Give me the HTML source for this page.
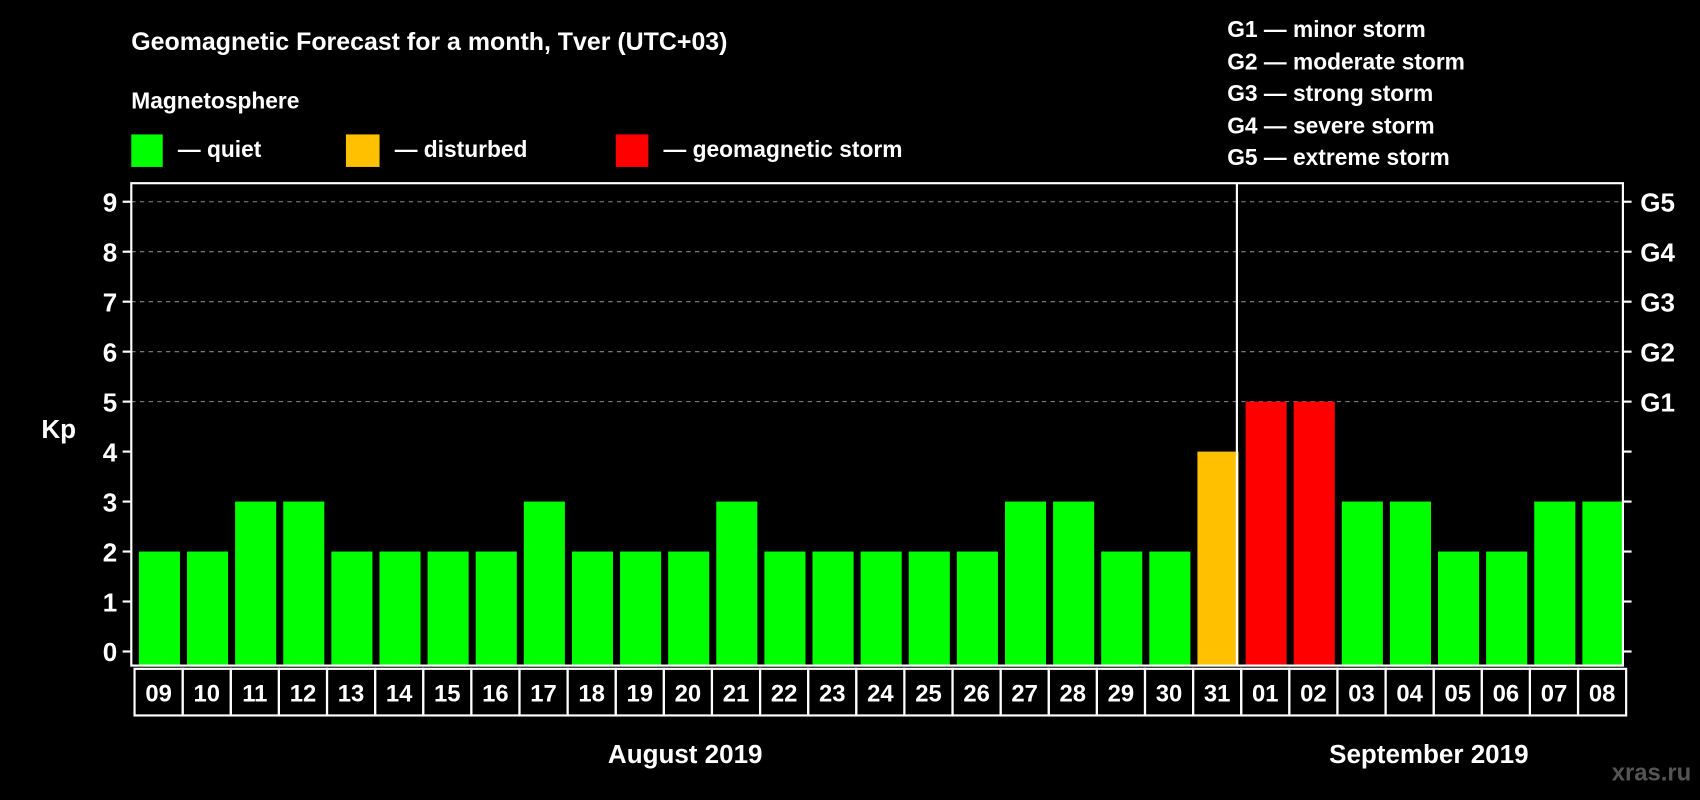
<!DOCTYPE html>
<html><head><meta charset="utf-8"><style>
html,body{margin:0;padding:0;background:#000;}
svg{display:block;font-family:"Liberation Sans",Arial,sans-serif;font-weight:bold;}
</style></head><body>
<svg id="chart" width="1700" height="800" viewBox="0 0 1568 738">
<rect x="0" y="0" width="1568" height="738" fill="#000"/>
<text x="121" y="46" fill="#fff" font-size="23">Geomagnetic Forecast for a month, Tver (UTC+03)</text>
<text x="121" y="100" fill="#fff" font-size="21">Magnetosphere</text>
<rect x="121" y="124" width="29" height="30" fill="#00ff00"/>
<text x="164" y="145" fill="#fff" font-size="21">— quiet</text>
<rect x="319" y="124" width="31" height="30" fill="#ffc000"/>
<text x="364" y="145" fill="#fff" font-size="21">— disturbed</text>
<rect x="568" y="124" width="30" height="30" fill="#ff0000"/>
<text x="612" y="145" fill="#fff" font-size="21">— geomagnetic storm</text>
<g fill="#fff" font-size="21">
<text x="1132" y="34">G1 — minor storm</text>
<text x="1132" y="64">G2 — moderate storm</text>
<text x="1132" y="93">G3 — strong storm</text>
<text x="1132" y="123">G4 — severe storm</text>
<text x="1132" y="152">G5 — extreme storm</text>
</g>
<text x="38" y="404" fill="#fff" font-size="24">Kp</text>
<text x="632" y="704" fill="#fff" font-size="24" text-anchor="middle">August 2019</text>
<text x="1318" y="704" fill="#fff" font-size="24" text-anchor="middle">September 2019</text>
<text x="1560" y="720" fill="#555" font-size="22" text-anchor="end">xras.ru</text>
<g id="grid"></g><g id="bars"></g><g id="axes"></g>
</svg>
<script>
const days = ["09","10","11","12","13","14","15","16","17","18","19","20","21","22","23","24","25","26","27","28","29","30","31","01","02","03","04","05","06","07","08"];
const kpValues = [2,2,3,3,2,2,2,2,3,2,2,2,3,2,2,2,2,2,3,3,2,2,4,5,5,3,3,2,2,3,3];
const yTicks = [0,1,2,3,4,5,6,7,8,9];
const gLabels = ["G1","G2","G3","G4","G5"];
const monthBreakIndex = 23;

const NS = "http://www.w3.org/2000/svg";
const L = 121, R = 1497, T = 169, B = 614;
const slot = (R - L) / days.length;
function y(v){ return 601 - v * 46.1; }
function x(i){ return L + i * slot; }
function mk(tag, attrs, parent){ const e = document.createElementNS(NS, tag); for (const k in attrs) e.setAttribute(k, attrs[k]); parent.appendChild(e); return e; }
const grid = document.getElementById("grid"), bars = document.getElementById("bars"), axes = document.getElementById("axes");

yTicks.forEach(v => {
  if (v >= 5) {
    const g = mk("line", {x1:L, x2:R, y1:y(v), y2:y(v), stroke:"#888", "stroke-width":1, "stroke-dasharray":"4,4"}, grid);
    
    
  }
  const tl = mk("line", {x1:L-8, x2:L, y1:y(v), y2:y(v), stroke:"#fff", "stroke-width":2}, axes);
  
  
  const tr = mk("line", {x1:R, x2:R+8, y1:y(v), y2:y(v), stroke:"#fff", "stroke-width":2}, axes);
  
  
  const t = mk("text", {x:L-13, y:y(v)+9, fill:"#fff", "font-size":24, "text-anchor":"end"}, axes);
  t.textContent = v;
  
  
  if (v >= 5) {
    const g = mk("text", {x:R+16, y:y(v)+9, fill:"#fff", "font-size":24}, axes);
    g.textContent = gLabels[v-5];
    
    
  }
});

kpValues.forEach((v, i) => {
  const col = v >= 5 ? "#ff0000" : (v >= 4 ? "#ffc000" : "#00ff00");
  const r = mk("rect", {x:x(i)+7, y:y(v), width:slot-6.5, height:B-1-y(v), fill:col}, bars);
  
  
  const c = mk("rect", {x:x(i)+3, y:617, width:slot, height:43, fill:"none", stroke:"#fff", "stroke-width":2}, axes);
  
  
  const t = mk("text", {x:x(i)+3+slot/2, y:647, fill:"#fff", "font-size":22, "text-anchor":"middle"}, axes);
  t.textContent = days[i];
  
  
});

const frame = mk("rect", {x:L, y:T, width:R-L, height:B-T, fill:"none", stroke:"#fff", "stroke-width":2}, axes);


const sep = mk("line", {x1:x(monthBreakIndex)-1, x2:x(monthBreakIndex)-1, y1:T, y2:B, stroke:"#fff", "stroke-width":2}, axes);


</script>
</body></html>
